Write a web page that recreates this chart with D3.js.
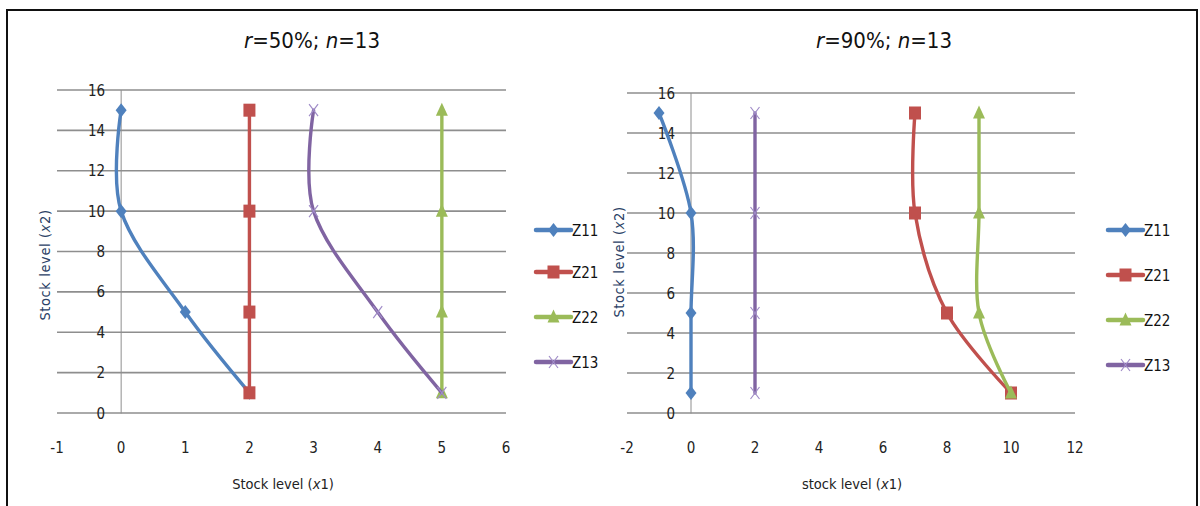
<!DOCTYPE html>
<html>
<head>
<meta charset="utf-8">
<script src="https://cdn.jsdelivr.net/npm/d3@7"></script>
<style>
  html, body { margin: 0; padding: 0; background: #fff; }
  svg { display: block; }
  text { font-family: "Liberation Sans Narrow", "DejaVu Sans Condensed", "Liberation Sans", sans-serif; }
</style>
</head>
<body>
<svg id="chart" width="1200" height="506"></svg>
<script>
// Stock level x2 shared by every series
const stockX2 = [1, 5, 10, 15];
const seriesNames = ["Z11", "Z21", "Z22", "Z13"];

// r = 50%, n = 13 : stock level x1 for each series
const r50Z11 = [2, 1, 0, 0];
const r50Z21 = [2, 2, 2, 2];
const r50Z22 = [5, 5, 5, 5];
const r50Z13 = [5, 4, 3, 3];

// r = 90%, n = 13 : stock level x1 for each series
const r90Z11 = [0, 0, 0, -1];
const r90Z21 = [10, 8, 7, 7];
const r90Z22 = [10, 9, 9, 9];
const r90Z13 = [2, 2, 2, 2];

// axis ticks
const yTicks = [0, 2, 4, 6, 8, 10, 12, 14, 16];
const r50XTicks = [-1, 0, 1, 2, 3, 4, 5, 6];
const r90XTicks = [-2, 0, 2, 4, 6, 8, 10, 12];

const colors = { Z11: "#4f81bd", Z21: "#c0504d", Z22: "#9bbb59", Z13: "#8064a2" };
const markerTypes = { Z11: "diamond", Z21: "square", Z22: "triangle", Z13: "cross" };

const svg = d3.select("#chart");

// outer frame (left, top, right edges; bottom runs off the canvas)
svg.append("path")
  .attr("d", "M7,520 L7,10 L1197,10 L1197,520")
  .attr("fill", "none").attr("stroke", "#111").attr("stroke-width", 2);

function drawMarker(g, type, x, y, color) {
  if (type === "diamond") {
    g.append("path").attr("d", `M${x},${y - 7} L${x + 5.5},${y} L${x},${y + 7} L${x - 5.5},${y} Z`)
      .attr("fill", color);
  } else if (type === "square") {
    g.append("rect").attr("x", x - 6).attr("y", y - 6.5).attr("width", 12).attr("height", 13)
      .attr("fill", color);
  } else if (type === "triangle") {
    g.append("path").attr("d", `M${x},${y - 7.5} L${x + 6},${y + 5.5} L${x - 6},${y + 5.5} Z`)
      .attr("fill", color);
  } else {
    g.append("path").attr("d", `M${x - 4.5},${y - 6} L${x + 4.5},${y + 6} M${x + 4.5},${y - 6} L${x - 4.5},${y + 6}`)
      .attr("stroke", "#a08cc8").attr("stroke-width", 1.2).attr("fill", "none");
  }
}

function drawPanel(cfg) {
  const g = svg.append("g");
  const x = d3.scaleLinear().domain(cfg.xDomain).range(cfg.xRange);
  const y = d3.scaleLinear().domain([0, 16]).range(cfg.yRange);

  // title
  const t = g.append("text").attr("x", cfg.titleX).attr("y", 48)
    .attr("text-anchor", "middle").attr("font-size", 22).attr("fill", "#111");
  t.append("tspan").attr("font-style", "italic").text("r");
  t.append("tspan").text(cfg.titleMid);
  t.append("tspan").attr("font-style", "italic").text("n");
  t.append("tspan").text("=13");

  // horizontal gridlines
  g.selectAll(".grid").data(yTicks).enter().append("line")
    .attr("x1", cfg.xRange[0]).attr("x2", cfg.xRange[1])
    .attr("y1", d => y(d)).attr("y2", d => y(d))
    .attr("stroke", "#8e8e8e").attr("stroke-width", 1.6);

  // vertical axis at x1 = 0
  g.append("line").attr("x1", x(0)).attr("x2", x(0))
    .attr("y1", y(16)).attr("y2", y(0) + 0.5)
    .attr("stroke", "#8e8e8e").attr("stroke-width", 1);

  // y tick labels
  g.selectAll(".ylab").data(yTicks).enter().append("text")
    .attr("x", x(0) - 16).attr("y", d => y(d) + 5.5)
    .attr("text-anchor", "end").attr("font-size", 15).attr("fill", "#222")
    .text(d => d);

  // x tick labels
  g.selectAll(".xlab").data(cfg.xTicks).enter().append("text")
    .attr("x", d => x(d)).attr("y", 453)
    .attr("text-anchor", "middle").attr("font-size", 15).attr("fill", "#222")
    .text(d => d);

  // x axis title
  const xt = g.append("text").attr("x", cfg.xTitleX).attr("y", 489)
    .attr("text-anchor", "middle").attr("font-size", 14.5).attr("fill", "#222");
  xt.append("tspan").text(cfg.xTitle + " (");
  xt.append("tspan").attr("font-style", "italic").text("x");
  xt.append("tspan").text("1)");

  // y axis title
  const yt = g.append("text")
    .attr("transform", `translate(${cfg.yTitleX},${cfg.yTitleY}) rotate(-90)`)
    .attr("text-anchor", "middle").attr("font-size", 14.5).attr("fill", "#2b3f66")
    .attr("letter-spacing", 0.6);
  yt.append("tspan").text("Stock level (");
  yt.append("tspan").attr("font-style", "italic").text("x");
  yt.append("tspan").text("2)");

  // series curves and markers
  const line = d3.line().x(d => x(d[0])).y(d => y(d[1])).curve(d3.curveCardinal.tension(0));
  seriesNames.forEach(name => {
    const pts = cfg.series[name].map((v, i) => [v, stockX2[i]]);
    g.append("path").attr("d", line(pts))
      .attr("fill", "none").attr("stroke", colors[name]).attr("stroke-width", 3.4)
      .attr("stroke-linecap", "round");
    pts.forEach(p => drawMarker(g, markerTypes[name], x(p[0]), y(p[1]), colors[name]));
  });

  // legend
  seriesNames.forEach((name, i) => {
    const ly = cfg.legendY[i];
    g.append("line").attr("x1", cfg.legendX).attr("x2", cfg.legendX + 35)
      .attr("y1", ly).attr("y2", ly)
      .attr("stroke", colors[name]).attr("stroke-width", 4.5)
      .attr("stroke-linecap", "round");
    drawMarker(g, markerTypes[name], cfg.legendX + 17.5, ly, colors[name]);
    g.append("text").attr("x", cfg.legendX + 36).attr("y", ly + 5.5)
      .attr("font-size", 15).attr("fill", "#111").text(name);
  });
}

drawPanel({
  titleMid: "=50%; ", titleX: 312,
  xDomain: [-1, 6], xRange: [57, 506], yRange: [413, 90],
  xTicks: r50XTicks,
  xTitle: "Stock level", xTitleX: 283,
  yTitleX: 50, yTitleY: 265,
  series: { Z11: r50Z11, Z21: r50Z21, Z22: r50Z22, Z13: r50Z13 },
  legendX: 536, legendY: [230, 272, 317, 362]
});

drawPanel({
  titleMid: "=90%; ", titleX: 884,
  xDomain: [-2, 12], xRange: [627, 1075], yRange: [413, 93],
  xTicks: r90XTicks,
  xTitle: "stock level", xTitleX: 852,
  yTitleX: 624, yTitleY: 262,
  series: { Z11: r90Z11, Z21: r90Z21, Z22: r90Z22, Z13: r90Z13 },
  legendX: 1108, legendY: [230, 275, 320, 365]
});
</script>
</body>
</html>
